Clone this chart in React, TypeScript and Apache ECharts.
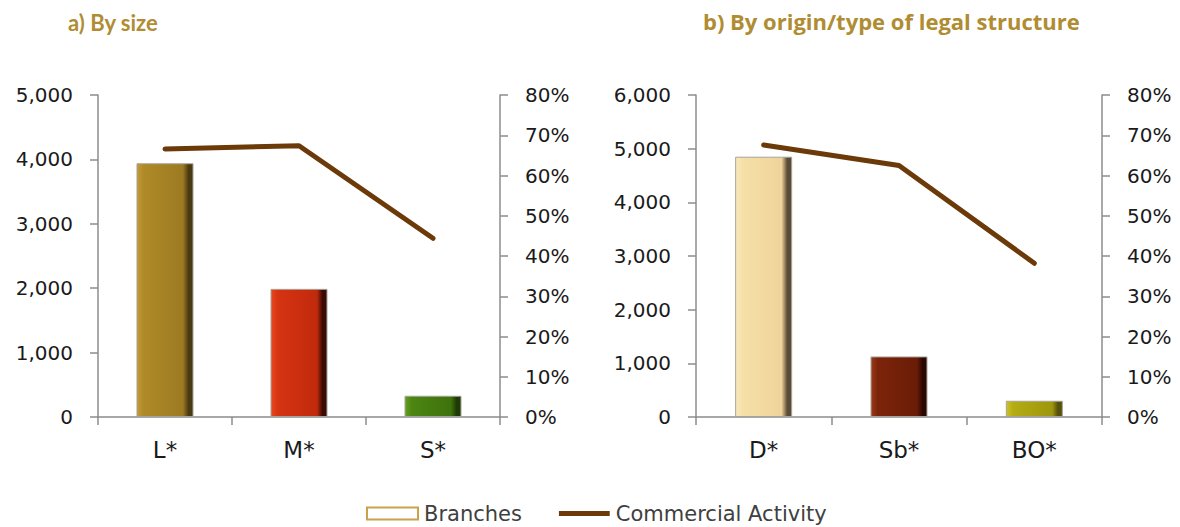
import React, { useEffect, useRef } from "react";
import * as echarts from "echarts";

const sizeCategories = ["L*", "M*", "S*"];
const sizeBranches = [3940, 1990, 330];
const sizeActivity = [0.666, 0.674, 0.444];

const originCategories = ["D*", "Sb*", "BO*"];
const originBranches = [4850, 1128, 303];
const originActivity = [0.676, 0.625, 0.382];

const leftTicksA = { min: 0, max: 5000, interval: 1000 };
const leftTicksB = { min: 0, max: 6000, interval: 1000 };
const pctTicks = { min: 0, max: 0.8, interval: 0.1 };

const sizeColors = [
  ["#C29A34", "#B08A28", "#9C7A22", "#4A3A12"],
  ["#E8481E", "#D63412", "#C02A0C", "#3A0A05"],
  ["#62A01E", "#4C8612", "#3E720C", "#1E3A05"],
];
const originColors = [
  ["#FBE9BC", "#F6E0A8", "#EED49A", "#5A4C35"],
  ["#9A3A1A", "#7C240A", "#6A1C06", "#2A0802"],
  ["#CCC424", "#B4AC12", "#9E960C", "#55500A"],
];

const grad = (c: string[]) =>
  new echarts.graphic.LinearGradient(0, 0, 1, 0, [
    { offset: 0, color: c[0] },
    { offset: 0.12, color: c[1] },
    { offset: 0.82, color: c[2] },
    { offset: 0.92, color: c[3] },
    { offset: 1, color: c[3] },
  ]);

const axisGray = "#8C8C8C";
const labelFont = "DejaVu Sans";
const lineColor = "#6B3A08";
const lineIcon =
  "path://M0,0L0.05,0L0.05,0.05L0,0.05ZM0,12L0.05,12L0.05,12.05L0,12.05ZM0,3.5L51,3.5L51,8.5L0,8.5Z";

export default function App() {
  const ref = useRef<HTMLDivElement>(null);
  useEffect(() => {
    document.body.style.margin = "0";
    const chart = echarts.init(ref.current!, undefined, { renderer: "svg" });
    const valueAxisBase = (pos: "left" | "right", grid: number, t: any, pct: boolean) => ({
      type: "value",
      gridIndex: grid,
      position: pos,
      min: t.min,
      max: t.max,
      interval: t.interval,
      axisLine: { show: true, lineStyle: { color: axisGray, width: 1.5 } },
      axisTick: { show: true, length: 8, lineStyle: { color: axisGray, width: 1.5 } },
      splitLine: { show: false },
      axisLabel: {
        margin: 25,
        fontFamily: labelFont,
        fontSize: 20,
        color: "#1a1a1a",
        formatter: pct
          ? (v: number) => Math.round(v * 100) + "%"
          : (v: number) => v.toLocaleString("en-US"),
      },
    });
    const catAxis = (grid: number, data: string[]) => ({
      type: "category",
      gridIndex: grid,
      data,
      axisLine: { show: true, lineStyle: { color: axisGray, width: 1.5 } },
      axisTick: { show: true, length: 8, interval: 0, lineStyle: { color: axisGray, width: 1.5 } },
      axisLabel: { margin: 21, fontFamily: labelFont, fontSize: 23, color: "#1a1a1a" },
    });
    const barSeries = (grid: number, vals: number[], colors: string[][]) => ({
      type: "bar",
      name: "Branches",
      xAxisIndex: grid,
      yAxisIndex: grid * 2,
      barWidth: 57,
      itemStyle: { color: "#ffffff", borderColor: "#C8A24C", borderWidth: 2 },
      data: vals.map((v, i) => ({
        value: v,
        itemStyle: { color: grad(colors[i]), borderColor: "#A8A39A", borderWidth: 1 },
      })),
    });
    const lineSeries = (grid: number, vals: number[]) => ({
      type: "line",
      name: "Commercial Activity",
      xAxisIndex: grid,
      yAxisIndex: grid * 2 + 1,
      symbol: "none",
      lineStyle: { color: lineColor, width: 5, cap: "round", join: "round" },
      itemStyle: { color: lineColor },
      data: vals,
    });
    chart.setOption({
      animation: false,
      title: [
        {
          text: "a) By size",
          left: 63,
          top: 6,
          textStyle: { fontFamily: "Lato", fontWeight: "bold", fontSize: 22, color: "#B08C32" },
        },
        {
          text: "b) By origin/type of legal structure",
          left: 698,
          top: 5,
          textStyle: { fontFamily: "Open Sans", fontWeight: "bold", fontSize: 22, color: "#B08C32" },
        },
      ],
      legend: {
        left: 361,
        top: 498,
        itemWidth: 51,
        itemHeight: 12,
        itemGap: 37,
        textStyle: { fontFamily: labelFont, fontSize: 21, color: "#404040", padding: [0, 0, 0, 1] },
        data: [
          { name: "Branches", icon: "rect", itemStyle: { color: "#ffffff", borderColor: "#C8A24C", borderWidth: 2 } },
          { name: "Commercial Activity", icon: lineIcon, itemStyle: { color: lineColor, borderWidth: 0 } },
        ],
      },
      grid: [
        { left: 98, right: 680, top: 95, bottom: 110 },
        { left: 696, right: 78, top: 95, bottom: 110 },
      ],
      xAxis: [catAxis(0, sizeCategories), catAxis(1, originCategories)],
      yAxis: [
        valueAxisBase("left", 0, leftTicksA, false),
        valueAxisBase("right", 0, pctTicks, true),
        valueAxisBase("left", 1, leftTicksB, false),
        valueAxisBase("right", 1, pctTicks, true),
      ],
      series: [
        barSeries(0, sizeBranches, sizeColors),
        lineSeries(0, sizeActivity),
        barSeries(1, originBranches, originColors),
        lineSeries(1, originActivity),
      ],
    });
    return () => chart.dispose();
  }, []);
  return <div ref={ref} style={{ width: 1180, height: 527 }} />;
}
